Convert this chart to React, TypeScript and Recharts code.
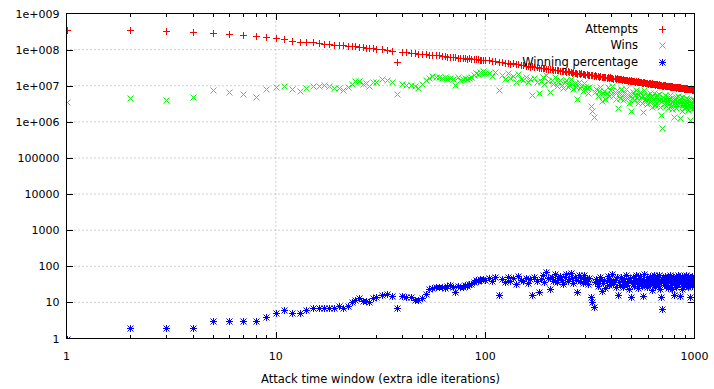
import { ScatterChart, Scatter, XAxis, YAxis, ReferenceLine } from 'recharts'

const FONT = "'DejaVu Sans', Verdana, sans-serif"

// attack time window (extra idle iterations)
const WINDOW = [
  1, 2, 3, 4, 5, 6, 7, 8, 9, 10, 11, 12, 13, 14, 15, 16, 17, 18, 19, 20,
  21, 22, 23, 24, 25, 26, 27, 28, 29, 30,
  32, 34, 36, 38, 40, 42, 44, 46, 48, 50, 52, 54, 56, 58, 60, 62, 64, 66, 68, 70,
  72, 74, 76, 78, 80, 82, 84, 86, 88, 90, 92, 94, 96, 98, 100,
  104, 108, 112, 116, 120, 124, 128, 132, 136, 140, 144, 148, 152, 156, 160, 164, 168, 172, 176, 180,
  184, 188, 192, 196, 200, 204, 208, 212, 216, 220, 224, 228, 232, 236, 240, 244, 248, 252, 256, 260,
  264, 268, 272, 276, 280, 284, 288, 292, 296, 300,
  305, 310, 315, 320, 325, 330, 335, 340, 345, 350,
  355, 360, 365, 370, 375, 380, 385, 390, 395, 400,
  405, 410, 415, 420, 425, 430, 435, 440, 445, 450,
  455, 460, 465, 470, 475, 480, 485, 490, 495, 500,
  505, 510, 515, 520, 525, 530, 535, 540, 545, 550,
  555, 560, 565, 570, 575, 580, 585, 590, 595, 600,
  605, 610, 615, 620, 625, 630, 635, 640, 645, 650,
  655, 660, 665, 670, 675, 680, 685, 690, 695, 700,
  705, 710, 715, 720, 725, 730, 735, 740, 745, 750,
  755, 760, 765, 770, 775, 780, 785, 790, 795, 800,
  805, 810, 815, 820, 825, 830, 835, 840, 845, 850,
  855, 860, 865, 870, 875, 880, 885, 890, 895, 900,
  905, 910, 915, 920, 925, 930, 935, 940, 945, 950,
  955, 960, 965, 970, 975, 980, 985, 990, 995, 1000,
]

// attempts, in millions
const ATTEMPTS_M = [
  360, 350, 330, 300, 280, 265, 250, 235, 220, 205, 200, 172, 162, 160, 158, 152, 145, 143, 135, 134,
  130, 127, 124, 122, 119, 116, 114, 110, 108, 105,
  101, 96, 94, 44, 88, 87, 83, 82, 78, 76, 75, 72, 72, 69, 69, 67, 66, 64, 64, 61,
  62, 60, 60, 58, 58, 56, 57, 55, 56, 54, 54, 53, 53, 52, 52,
  51.5, 48.2, 48.3, 45.2, 45.4, 42.8, 43.3, 40.8, 41.3, 38.9, 39.2, 36.9, 37.5, 35.4, 35.9, 33.9, 34.4, 32.6, 33.1, 31.4,
  31.9, 30.2, 30.8, 29.2, 29.9, 28.2, 28.8, 27.2, 27.9, 26.5, 27.1, 25.7, 26.3, 24.9, 25.5, 24.2, 24.9, 23.5, 24.2, 22.9,
  23.6, 22.3, 23.0, 21.8, 22.4, 21.3, 21.9, 20.8, 21.4, 20.4,
  20.9, 19.8, 20.3, 19.5, 19.6, 18.8, 19.3, 18.5, 18.9, 18.0,
  18.4, 17.6, 18.0, 17.2, 17.6, 16.8, 17.3, 16.5, 16.9, 16.2,
  16.5, 15.8, 16.2, 15.5, 15.9, 15.2, 15.6, 14.9, 15.3, 14.7,
  15.1, 14.4, 14.8, 14.1, 14.6, 13.9, 14.3, 13.6, 14.0, 13.4,
  13.8, 13.1, 13.6, 12.9, 13.4, 12.7, 13.2, 12.5, 12.9, 12.4,
  12.8, 12.1, 12.6, 11.9, 12.4, 11.8, 12.2, 11.6, 12.0, 11.5,
  11.9, 11.3, 11.7, 11.1, 11.6, 11.0, 11.4, 10.9, 11.3, 10.8,
  11.2, 10.7, 11.0, 10.5, 10.9, 10.4, 10.7, 10.2, 10.6, 10.1,
  10.5, 10.0, 10.3, 9.9, 10.2, 9.8, 10.1, 9.6, 9.9, 9.6,
  9.9, 9.5, 9.8, 9.4, 9.7, 9.3, 9.6, 9.2, 9.5, 9.1,
  9.4, 9.0, 9.3, 8.9, 9.2, 8.8, 9.1, 8.7, 9.0, 8.6,
  9.0, 8.6, 8.9, 8.5, 8.8, 8.4, 8.7, 8.3, 8.6, 8.2,
  8.5, 8.2, 8.5, 8.1, 8.4, 8.0, 8.3, 7.9, 8.2, 7.9,
  8.2, 7.9, 8.1, 7.8, 8.0, 7.7, 7.9, 7.6, 7.9, 7.6,
]

// wins, in millions
const WINS_M = [
  3.5, 4.6, 4.1, 5.0, 7.4, 6.9, 5.9, 5.0, 8.1, 9.2, 10, 8.1, 7.1, 8.6, 10, 9.9, 10.2, 9.7, 8.8, 8.6,
  7.8, 9.5, 11.5, 13.5, 13.2, 11.5, 12, 10, 13, 12.8,
  15, 14, 13, 5.9, 11.5, 10.5, 10.2, 9.9, 8.6, 11.5, 14, 16, 19, 17, 18, 16, 17, 15, 16, 15,
  10.5, 17, 14, 15, 16.5, 15, 16, 18, 20, 22, 21, 24, 23, 25, 22,
  23, 18.6, 23.8, 7.4, 19.6, 15.7, 22, 16.6, 19, 13, 21, 15.8, 14, 17.3, 12.3, 15.5, 5.4, 16.6, 13, 6.4,
  13.8, 17.9, 11.2, 20.3, 13.5, 6.9, 14.7, 11.1, 17, 9.7, 12.8, 14.4, 10.8, 8.4, 12.5, 14.8, 9.3, 10.8, 15.6, 11.2,
  8.1, 11.9, 9.5, 4.2, 12.3, 8.7, 10.1, 7.2, 12.2, 9.2,
  8.4, 6.3, 9.5, 2.7, 2.0, 1.4, 6.9, 8.1, 5.3, 7.0,
  9.2, 3.7, 6.1, 7.2, 4.4, 6.4, 9.3, 5.1, 7.6, 5.8,
  9.9, 5.2, 6.6, 4.2, 7.8, 2.4, 5.8, 4.5, 8.0, 5.7,
  3.9, 6.3, 5.2, 7.9, 4.5, 5.6, 3.3, 6.4, 2.0, 5.1,
  4.7, 6.6, 3.9, 5.4, 7.8, 4.6, 3.3, 5.6, 4.1, 6.6,
  5.0, 3.4, 1.9, 5.2, 7.4, 4.4, 3.8, 5.7, 3.1, 4.7,
  4.2, 6.1, 3.5, 4.8, 2.6, 5.2, 4.3, 6.1, 3.7, 2.9,
  5.0, 4.3, 5.7, 3.0, 3.9, 6.0, 2.6, 4.3, 1.5, 0.68,
  3.9, 4.9, 3.2, 4.4, 5.6, 2.7, 4.0, 3.3, 5.0, 2.4,
  4.2, 3.4, 5.6, 2.8, 4.5, 3.6, 2.2, 4.6, 3.1, 1.4,
  4.1, 3.4, 4.9, 2.4, 3.8, 5.2, 2.9, 4.1, 3.2, 1.3,
  4.5, 3.2, 3.7, 2.0, 4.8, 3.3, 2.9, 4.0, 2.4, 3.7,
  3.1, 4.6, 2.6, 3.5, 3.4, 2.1, 4.3, 3.0, 3.9, 1.1,
  2.8, 3.9, 3.4, 2.3, 4.4, 2.8, 3.5, 2.4, 4.0, 3.0,
]

// winning percentage
const WIN_PCT = [
  1, 2, 2, 2, 3, 3, 3, 3, 4, 5, 6, 5, 5, 6, 7, 7, 7, 7, 7, 8,
  7, 8, 10, 12, 13, 11, 11, 10, 13, 14,
  16, 17, 15, 7, 15, 14, 14, 12, 12, 13, 17, 24, 25, 27, 26, 27, 25, 28, 30, 27,
  19, 28, 26, 27, 30, 29, 33, 32, 36, 41, 38, 44, 42, 45, 42,
  46, 38, 50, 16, 44, 36, 52, 40, 47, 33, 55, 42, 38, 48, 35, 45, 16, 50, 40, 20,
  44, 58, 37, 68, 46, 24, 52, 40, 62, 36, 48, 55, 42, 33, 50, 60, 38, 45, 66, 48,
  35, 52, 42, 19, 56, 40, 47, 34, 58, 44,
  40, 32, 47, 14, 10, 7.4, 36, 44, 28, 39,
  50, 21, 34, 42, 25, 38, 54, 31, 45, 36,
  60, 33, 41, 27, 49, 16, 37, 30, 52, 39,
  26, 44, 35, 56, 31, 40, 23, 47, 14, 38,
  34, 50, 29, 42, 58, 36, 25, 45, 32, 53,
  39, 28, 15, 44, 60, 37, 31, 49, 26, 41,
  35, 54, 30, 43, 22, 47, 38, 56, 33, 27,
  45, 40, 52, 29, 36, 58, 24, 42, 14, 6.7,
  37, 49, 31, 44, 55, 28, 40, 34, 51, 25,
  42, 36, 57, 30, 46, 39, 23, 50, 33, 15.6,
  44, 38, 53, 27, 41, 59, 32, 47, 35, 15,
  50, 37, 42, 24, 54, 39, 33, 48, 28, 45,
  36, 56, 31, 43, 40, 26, 52, 38, 47, 14,
  34, 49, 42, 29, 55, 37, 44, 32, 50, 39,
]

const X_MAJOR = [1, 10, 100, 1000]
const X_MINOR = [2, 3, 4, 5, 6, 7, 8, 9, 20, 30, 40, 50, 60, 70, 80, 90, 200, 300, 400, 500, 600, 700, 800, 900]
const Y_TICKS = [1, 10, 100, 1000, 10000, 100000, 1e6, 1e7, 1e8, 1e9]
const X_DOMAIN = [1, 1000]
const Y_DOMAIN = [1, 1e9]
const KEY_EDGE = 135 // the key box starts here, the 1e+008 grid line stops at it

const attemptsData = WINDOW.map((x, i) => ({ x, y: ATTEMPTS_M[i] * 1e6 }))
const winsData = WINDOW.map((x, i) => ({ x, y: WINS_M[i] * 1e6 }))
const pctData = WINDOW.map((x, i) => ({ x, y: WIN_PCT[i] }))

const W = 714
const H = 389
// half-pixel margins so the 1px border lands on whole pixels
const MARGIN = { top: 13.5, right: 19.5, bottom: 5.5, left: 6.5 }
const Y_AXIS_W = 60
const X_AXIS_H = 45
const PLOT_TOP = MARGIN.top
const PLOT_BOTTOM = H - MARGIN.bottom - X_AXIS_H
const PLOT_RIGHT = W - MARGIN.right
const PLOT_LEFT = MARGIN.left + Y_AXIS_W

// same log mapping as the chart axes, only used for the border tics
const tx = (v: number) =>
  PLOT_LEFT + ((Math.log10(v) - Math.log10(X_DOMAIN[0])) / (Math.log10(X_DOMAIN[1]) - Math.log10(X_DOMAIN[0]))) * (PLOT_RIGHT - PLOT_LEFT)
const ty = (v: number) =>
  PLOT_BOTTOM - ((Math.log10(v) - Math.log10(Y_DOMAIN[0])) / (Math.log10(Y_DOMAIN[1]) - Math.log10(Y_DOMAIN[0]))) * (PLOT_BOTTOM - PLOT_TOP)

const fmtY = (v: number) =>
  v >= 1e6 ? `1e+${String(Math.round(Math.log10(v))).padStart(3, '0')}` : String(v)

const snap = (v: number) => Math.round(v) + 0.5

const plusD = (x: number, y: number) => `M${x - 3.5},${y}H${x + 3.5}M${x},${y - 3.5}V${y + 3.5}`
const crossD = (x: number, y: number) => `M${x - 3},${y - 3}L${x + 3},${y + 3}M${x - 3},${y + 3}L${x + 3},${y - 3}`

const markerPath = (kind: string, x: number, y: number) =>
  kind === 'plus' ? plusD(x, y) : kind === 'cross' ? crossD(x, y) : plusD(x, y) + crossD(x, y)

const makeShape = (kind: string, color: string) => (p: any) => (
  <path d={markerPath(kind, snap(p.cx), snap(p.cy))} stroke={color} strokeWidth={1} fill="none" />
)

const SERIES = [
  { name: 'Attempts', color: '#ff0000', kind: 'plus', data: attemptsData },
  { name: 'Wins', color: '#00ff00', kind: 'cross', data: winsData },
  { name: 'Winning percentage', color: '#0000ff', kind: 'star', data: pctData },
]

const gridStyle = { stroke: '#a0a0a0', strokeDasharray: '1 3' }
const textStyle = { fill: '#000', fontSize: 11, fontFamily: FONT }
const axisLineStyle = { stroke: '#000', strokeWidth: 1 }

function XLabel(props: any) {
  return (
    <text x={props.x} y={PLOT_BOTTOM + 21} textAnchor="middle" {...textStyle}>
      {props.payload.value}
    </text>
  )
}

function YLabel(props: any) {
  return (
    <text x={PLOT_LEFT - 7} y={props.y + 4} textAnchor="end" {...textStyle}>
      {fmtY(props.payload.value)}
    </text>
  )
}

// border and inward tics as 1px filled bars, top/bottom and left/right mirrored
function Frame() {
  const left = PLOT_LEFT - 0.5
  const top = PLOT_TOP - 0.5
  const right = PLOT_RIGHT - 0.5
  const bottom = PLOT_BOTTOM - 0.5
  const bars: { x: number; y: number; w: number; h: number }[] = [
    { x: left, y: top, w: right - left + 1, h: 1 },
    { x: left, y: bottom, w: right - left + 1, h: 1 },
    { x: left, y: top, w: 1, h: bottom - top + 1 },
    { x: right, y: top, w: 1, h: bottom - top + 1 },
  ]
  X_MAJOR.slice(1, -1).forEach((v) => {
    const x = Math.round(tx(v))
    bars.push({ x, y: bottom - 6, w: 1, h: 6 }, { x, y: top + 1, w: 1, h: 6 })
  })
  X_MINOR.forEach((v) => {
    const x = Math.round(tx(v))
    bars.push({ x, y: bottom - 3, w: 1, h: 3 }, { x, y: top + 1, w: 1, h: 3 })
  })
  Y_TICKS.slice(1, -1).forEach((v) => {
    const y = Math.round(ty(v))
    bars.push({ x: left + 1, y, w: 6, h: 1 }, { x: right - 6, y, w: 6, h: 1 })
  })
  return (
    <svg style={{ position: 'absolute', left: 0, top: 0, zIndex: 5 }} width={W} height={H}>
      {bars.map((b, i) => (
        <rect key={i} x={b.x} y={b.y} width={b.w} height={b.h} fill="#000" />
      ))}
    </svg>
  )
}

export default function App() {
  return (
    <div style={{ position: 'absolute', left: 0, top: 0, width: W, height: H, background: '#fff' }}>
      <ScatterChart width={W} height={H} margin={MARGIN}>
        {[10, 100].map((v) => (
          <ReferenceLine key={'gx' + v} x={v} {...gridStyle} />
        ))}
        {Y_TICKS.slice(1, -2).map((v) => (
          <ReferenceLine key={'gy' + v} y={v} {...gridStyle} />
        ))}
        <ReferenceLine segment={[{ x: 1, y: 1e8 }, { x: KEY_EDGE, y: 1e8 }]} {...gridStyle} />

        <XAxis
          dataKey="x"
          type="number"
          scale="log"
          domain={X_DOMAIN}
          allowDataOverflow
          ticks={X_MAJOR}
          interval={0}
          tickLine={false}
          axisLine={axisLineStyle}
          height={X_AXIS_H}
          tick={<XLabel />}
          label={{
            value: 'Attack time window (extra idle iterations)',
            position: 'insideBottom',
            offset: 1,
            fill: '#000',
            fontSize: 11.5,
            fontFamily: FONT,
          }}
        />
        <YAxis
          dataKey="y"
          type="number"
          scale="log"
          domain={Y_DOMAIN}
          allowDataOverflow
          ticks={Y_TICKS}
          interval={0}
          tickLine={false}
          axisLine={axisLineStyle}
          width={Y_AXIS_W}
          tick={<YLabel />}
        />

        {SERIES.map((s) => (
          <Scatter key={s.name} name={s.name} data={s.data} shape={makeShape(s.kind, s.color)} isAnimationActive={false} />
        ))}
      </ScatterChart>

      <Frame />

      {SERIES.map((s, i) => (
        <div key={s.name}>
          <div
            style={{
              position: 'absolute',
              right: 76,
              top: 29 + i * 16.4 - 7,
              zIndex: 6,
              fontSize: 11.5,
              lineHeight: '14px',
              fontFamily: FONT,
              color: '#000',
              whiteSpace: 'nowrap',
            }}
          >
            {s.name}
          </div>
          <svg style={{ position: 'absolute', left: 657, top: 29 + i * 16.4 - 5, zIndex: 6 }} width={10} height={10}>
            <path d={markerPath(s.kind, 5.5, 5.5)} stroke={s.color} fill="none" />
          </svg>
        </div>
      ))}
    </div>
  )
}
